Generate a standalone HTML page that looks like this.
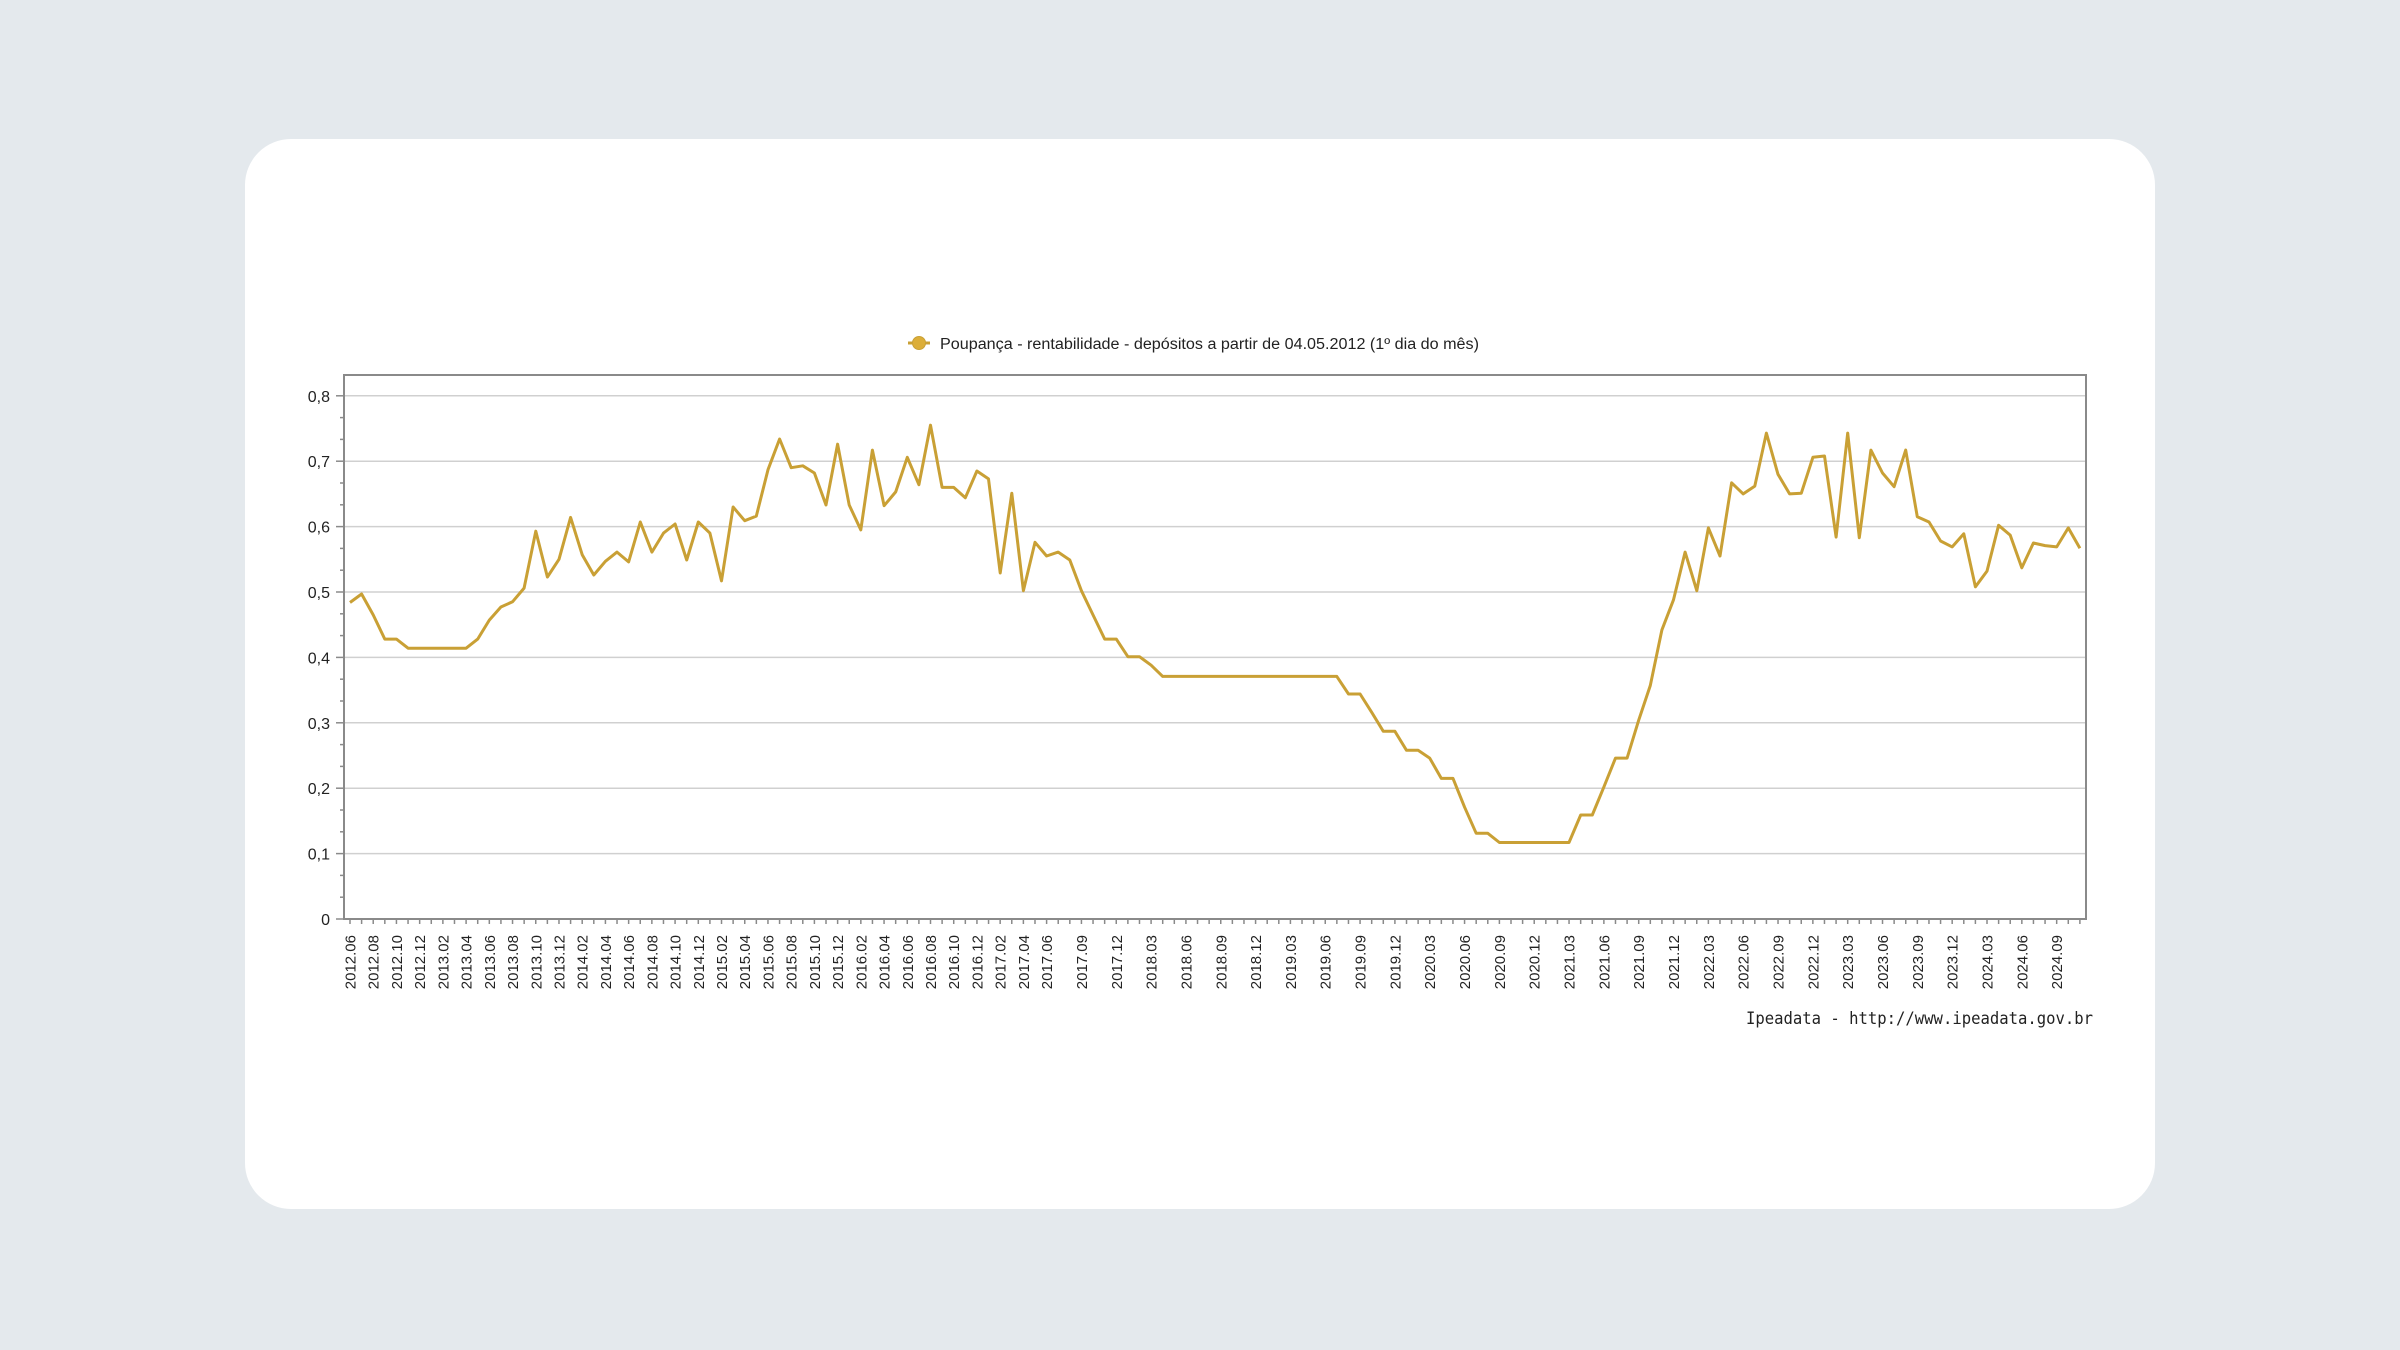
<!DOCTYPE html>
<html><head><meta charset="utf-8">
<style>
html,body{margin:0;padding:0;width:2400px;height:1350px;background:#e4e9ed;overflow:hidden}
.card{position:absolute;left:245px;top:139px;width:1910px;height:1070px;background:#fff;border-radius:46px}
svg{position:absolute;left:0;top:0}
text{font-family:"Liberation Sans","DejaVu Sans",sans-serif;fill:#222}
</style></head><body>
<div class="card"></div>
<svg width="2400" height="1350" viewBox="0 0 2400 1350">
<g id="grid" stroke="#d0d0d0" stroke-width="1.5">
<line x1="344" y1="853.6" x2="2086" y2="853.6"/>
<line x1="344" y1="788.2" x2="2086" y2="788.2"/>
<line x1="344" y1="722.8" x2="2086" y2="722.8"/>
<line x1="344" y1="657.4" x2="2086" y2="657.4"/>
<line x1="344" y1="592" x2="2086" y2="592"/>
<line x1="344" y1="526.6" x2="2086" y2="526.6"/>
<line x1="344" y1="461.2" x2="2086" y2="461.2"/>
<line x1="344" y1="395.8" x2="2086" y2="395.8"/>
</g>
<rect x="344" y="375" width="1742" height="544" fill="none" stroke="#8a8a8a" stroke-width="2"/>
<g id="yt" stroke="#8a8a8a" stroke-width="1.5"></g>
<g id="xt" stroke="#8a8a8a" stroke-width="1.5"></g>
<g font-size="16" text-anchor="end">
<text x="330" y="925">0</text>
<text x="330" y="859.6">0,1</text>
<text x="330" y="794.2">0,2</text>
<text x="330" y="728.8">0,3</text>
<text x="330" y="663.4">0,4</text>
<text x="330" y="598">0,5</text>
<text x="330" y="532.6">0,6</text>
<text x="330" y="467.2">0,7</text>
<text x="330" y="401.8">0,8</text>
</g>
<polyline id="series" fill="none" stroke="#c9a035" stroke-width="3" stroke-linejoin="round"/>
<line x1="908" y1="343" x2="930" y2="343" stroke="#c9a035" stroke-width="3"/>
<circle cx="919" cy="343" r="6.5" fill="#dcae38" stroke="#c9a035" stroke-width="1"/>
<text x="940" y="349" font-size="15.5" fill="#111" textLength="539" lengthAdjust="spacingAndGlyphs">Poupança - rentabilidade - depósitos a partir de 04.05.2012  (1º dia do mês)</text>
<text x="2093" y="1024" font-size="17" text-anchor="end" textLength="347" lengthAdjust="spacingAndGlyphs" style="font-family:'DejaVu Sans Mono','Liberation Mono',monospace" fill="#222">Ipeadata - http://www.ipeadata.gov.br</text>
<g font-size="15" text-anchor="end">
<text transform="translate(350,935) rotate(-90)" dy="5.5">2012.06</text>
<text transform="translate(373.2,935) rotate(-90)" dy="5.5">2012.08</text>
<text transform="translate(396.4,935) rotate(-90)" dy="5.5">2012.10</text>
<text transform="translate(419.7,935) rotate(-90)" dy="5.5">2012.12</text>
<text transform="translate(442.9,935) rotate(-90)" dy="5.5">2013.02</text>
<text transform="translate(466.1,935) rotate(-90)" dy="5.5">2013.04</text>
<text transform="translate(489.3,935) rotate(-90)" dy="5.5">2013.06</text>
<text transform="translate(512.5,935) rotate(-90)" dy="5.5">2013.08</text>
<text transform="translate(535.8,935) rotate(-90)" dy="5.5">2013.10</text>
<text transform="translate(559,935) rotate(-90)" dy="5.5">2013.12</text>
<text transform="translate(582.2,935) rotate(-90)" dy="5.5">2014.02</text>
<text transform="translate(605.4,935) rotate(-90)" dy="5.5">2014.04</text>
<text transform="translate(628.6,935) rotate(-90)" dy="5.5">2014.06</text>
<text transform="translate(651.9,935) rotate(-90)" dy="5.5">2014.08</text>
<text transform="translate(675.1,935) rotate(-90)" dy="5.5">2014.10</text>
<text transform="translate(698.3,935) rotate(-90)" dy="5.5">2014.12</text>
<text transform="translate(721.5,935) rotate(-90)" dy="5.5">2015.02</text>
<text transform="translate(744.7,935) rotate(-90)" dy="5.5">2015.04</text>
<text transform="translate(768,935) rotate(-90)" dy="5.5">2015.06</text>
<text transform="translate(791.2,935) rotate(-90)" dy="5.5">2015.08</text>
<text transform="translate(814.4,935) rotate(-90)" dy="5.5">2015.10</text>
<text transform="translate(837.6,935) rotate(-90)" dy="5.5">2015.12</text>
<text transform="translate(860.8,935) rotate(-90)" dy="5.5">2016.02</text>
<text transform="translate(884.1,935) rotate(-90)" dy="5.5">2016.04</text>
<text transform="translate(907.3,935) rotate(-90)" dy="5.5">2016.06</text>
<text transform="translate(930.5,935) rotate(-90)" dy="5.5">2016.08</text>
<text transform="translate(953.7,935) rotate(-90)" dy="5.5">2016.10</text>
<text transform="translate(976.9,935) rotate(-90)" dy="5.5">2016.12</text>
<text transform="translate(1000.2,935) rotate(-90)" dy="5.5">2017.02</text>
<text transform="translate(1023.4,935) rotate(-90)" dy="5.5">2017.04</text>
<text transform="translate(1046.6,935) rotate(-90)" dy="5.5">2017.06</text>
<text transform="translate(1081.4,935) rotate(-90)" dy="5.5">2017.09</text>
<text transform="translate(1116.3,935) rotate(-90)" dy="5.5">2017.12</text>
<text transform="translate(1151.1,935) rotate(-90)" dy="5.5">2018.03</text>
<text transform="translate(1185.9,935) rotate(-90)" dy="5.5">2018.06</text>
<text transform="translate(1220.8,935) rotate(-90)" dy="5.5">2018.09</text>
<text transform="translate(1255.6,935) rotate(-90)" dy="5.5">2018.12</text>
<text transform="translate(1290.4,935) rotate(-90)" dy="5.5">2019.03</text>
<text transform="translate(1325.2,935) rotate(-90)" dy="5.5">2019.06</text>
<text transform="translate(1360.1,935) rotate(-90)" dy="5.5">2019.09</text>
<text transform="translate(1394.9,935) rotate(-90)" dy="5.5">2019.12</text>
<text transform="translate(1429.7,935) rotate(-90)" dy="5.5">2020.03</text>
<text transform="translate(1464.6,935) rotate(-90)" dy="5.5">2020.06</text>
<text transform="translate(1499.4,935) rotate(-90)" dy="5.5">2020.09</text>
<text transform="translate(1534.2,935) rotate(-90)" dy="5.5">2020.12</text>
<text transform="translate(1569,935) rotate(-90)" dy="5.5">2021.03</text>
<text transform="translate(1603.9,935) rotate(-90)" dy="5.5">2021.06</text>
<text transform="translate(1638.7,935) rotate(-90)" dy="5.5">2021.09</text>
<text transform="translate(1673.5,935) rotate(-90)" dy="5.5">2021.12</text>
<text transform="translate(1708.4,935) rotate(-90)" dy="5.5">2022.03</text>
<text transform="translate(1743.2,935) rotate(-90)" dy="5.5">2022.06</text>
<text transform="translate(1778,935) rotate(-90)" dy="5.5">2022.09</text>
<text transform="translate(1812.9,935) rotate(-90)" dy="5.5">2022.12</text>
<text transform="translate(1847.7,935) rotate(-90)" dy="5.5">2023.03</text>
<text transform="translate(1882.5,935) rotate(-90)" dy="5.5">2023.06</text>
<text transform="translate(1917.4,935) rotate(-90)" dy="5.5">2023.09</text>
<text transform="translate(1952.2,935) rotate(-90)" dy="5.5">2023.12</text>
<text transform="translate(1987,935) rotate(-90)" dy="5.5">2024.03</text>
<text transform="translate(2021.8,935) rotate(-90)" dy="5.5">2024.06</text>
<text transform="translate(2056.7,935) rotate(-90)" dy="5.5">2024.09</text>
</g>
</svg>
<script>
var v=[0.484,0.497,0.465,0.428,0.428,0.414,0.414,0.414,0.414,0.414,0.414,0.428,0.457,0.477,0.485,0.506,0.593,0.523,0.55,0.614,
0.557,0.526,0.547,0.561,0.546,0.607,0.561,0.590,0.604,0.549,0.607,0.590,0.517,0.630,0.609,0.616,0.687,0.734,0.690,0.693,
0.682,0.633,0.726,0.633,0.595,0.717,0.632,0.653,0.706,0.664,0.755,0.660,0.660,0.644,0.685,0.673,0.529,0.651,0.502,0.576,
0.555,0.561,0.549,0.502,0.465,0.428,0.428,0.401,0.401,0.388,0.371,0.371,0.371,0.371,0.371,0.371,0.371,0.371,0.371,0.371,
0.371,0.371,0.371,0.371,0.371,0.371,0.344,0.344,0.316,0.287,0.287,0.258,0.258,0.246,0.215,0.215,0.171,0.131,0.131,0.117,
0.117,0.117,0.117,0.117,0.117,0.117,0.159,0.159,0.202,0.246,0.246,0.304,0.357,0.442,0.488,0.561,0.502,0.598,0.555,0.667,
0.650,0.662,0.743,0.680,0.650,0.651,0.706,0.708,0.584,0.743,0.583,0.717,0.682,0.661,0.717,0.615,0.607,0.578,0.569,0.589,
0.508,0.532,0.602,0.587,0.537,0.575,0.571,0.569,0.598,0.567];
var p=[];for(var i=0;i<v.length;i++){p.push((350+11.61*i).toFixed(1)+","+(919-v[i]*654).toFixed(1));}
document.getElementById("series").setAttribute("points",p.join(" "));
var ns="http://www.w3.org/2000/svg";
function L(g,x1,y1,x2,y2){var l=document.createElementNS(ns,"line");l.setAttribute("x1",x1);l.setAttribute("y1",y1);l.setAttribute("x2",x2);l.setAttribute("y2",y2);g.appendChild(l);}
var yt=document.getElementById("yt");
for(var k=0;k<=24;k++){var y=919-k*654/30;L(yt,k%3==0?336:340,y,344,y);}
var xt=document.getElementById("xt");
for(var i=0;i<150;i++){var x=350+11.61*i;L(xt,x,919,x,924);}
</script>
</body></html>
